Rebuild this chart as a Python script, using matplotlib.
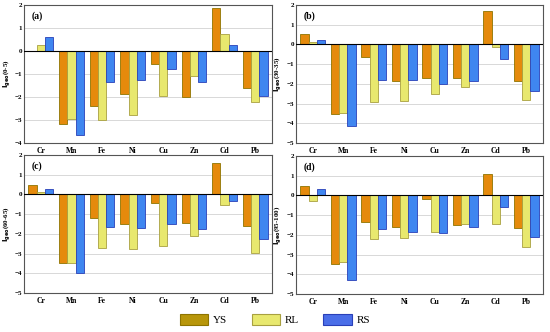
import numpy as np
import matplotlib.pyplot as plt
from matplotlib.patches import Patch

plt.rcParams['font.family'] = ['Liberation Serif', 'DejaVu Serif']

metals = ['Cr', 'Mn', 'Fe', 'Ni', 'Cu', 'Zn', 'Cd', 'Pb']
series = ['YS', 'RL', 'RS']

# Igeo values, one list per layer and site
a_ys = [0.0, -3.16, -2.37, -1.85, -0.58, -2.0, 1.89, -1.6]
a_rl = [0.25, -2.95, -3.01, -2.79, -1.94, -1.09, 0.73, -2.21]
a_rs = [0.61, -3.64, -1.34, -1.25, -0.77, -1.34, 0.25, -1.97]

b_ys = [0.52, -3.54, -0.66, -1.87, -1.72, -1.69, 1.69, -1.85]
b_rl = [0.13, -3.49, -2.93, -2.88, -2.53, -2.16, -0.15, -2.83]
b_rs = [0.22, -4.13, -1.82, -1.82, -2.02, -1.85, -0.73, -2.34]

c_ys = [0.47, -3.46, -1.18, -1.52, -0.46, -1.47, 1.6, -1.6]
c_rl = [0.13, -3.5, -2.7, -2.79, -2.6, -2.11, -0.56, -2.99]
c_rs = [0.3, -4.0, -1.64, -1.72, -1.5, -1.74, -0.35, -2.28]

d_ys = [0.46, -3.46, -1.36, -1.58, -0.17, -1.5, 1.09, -1.67]
d_rl = [-0.26, -3.37, -2.21, -2.18, -1.87, -1.47, -1.43, -2.61]
d_rs = [0.31, -4.28, -1.7, -1.84, -1.93, -1.58, -0.61, -2.1]

panels = [
    ('(a)', '0-5', (a_ys, a_rl, a_rs), -4),
    ('(b)', '30-35', (b_ys, b_rl, b_rs), -5),
    ('(c)', '60-65', (c_ys, c_rl, c_rs), -5),
    ('(d)', '95-100', (d_ys, d_rl, d_rs), -5),
]

face = ['#E58A0C', '#E8E86E', '#3F86F0']
edge = ['#8E7400', '#A8A040', '#2A40B8']
legend_face = ['#B8960A', '#E8E86E', '#4A6EE8']

W, H = 550, 332
fig = plt.figure(figsize=(5.5, 3.32), dpi=100)

# axes boxes in pixels: left, top, width, height, ylabel offset
boxes = [(24, 5, 248, 138, 11.5), (296, 5, 247, 138, 12.5),
         (24, 155, 248, 138, 11.5), (296, 156, 247, 138, 12.5)]

x = np.arange(len(metals))
bw = 0.27
for (lab, depth, vals, ymin), (l, t, w, h, off) in zip(panels, boxes):
    ax = fig.add_axes([l / W, (H - t - h) / H, w / W, h / H])
    for i, v in enumerate(vals):
        ax.bar(x + (i - 1) * bw, v, bw, color=face[i], edgecolor=edge[i],
               linewidth=0.6, zorder=3)
    ax.axhline(0, color='black', linewidth=0.8, zorder=4)
    ax.set_ylim(ymin, 2)
    ax.set_xlim(-0.55, len(metals) - 0.45)
    ax.set_yticks(np.arange(ymin, 3))
    ax.yaxis.grid(True, color='#d8d8d8', linewidth=0.7, zorder=0)
    ax.set_xticks(x)
    ax.set_xticklabels(metals, fontsize=5.5, fontweight='bold')
    ax.tick_params(axis='y', labelsize=5, length=0, pad=1.5)
    ax.tick_params(axis='x', length=0, pad=3)
    for lbl in ax.get_yticklabels():
        lbl.set_fontweight('bold')
    for s in ax.spines.values():
        s.set_color('#555555')
        s.set_linewidth(0.8)
    ax.set_ylabel(r'$\mathbf{I_{geo}}$' + '(' + depth + ')', fontsize=5,
                  fontweight='bold')
    ax.yaxis.set_label_coords(-off / w, 0.5)
    ax.text(0.03, 0.9, lab, transform=ax.transAxes, fontsize=7,
            fontweight='bold')

handles = [Patch(facecolor=legend_face[i], edgecolor=edge[i], linewidth=0.8)
           for i in range(3)]
fig.legend(handles, series, loc='lower center', ncol=3, frameon=False,
           bbox_to_anchor=(0.5, -0.01), fontsize=8, handlelength=2.6,
           handleheight=1.1, columnspacing=2.2, handletextpad=0.4)

fig.savefig('out.png', dpi=100)
